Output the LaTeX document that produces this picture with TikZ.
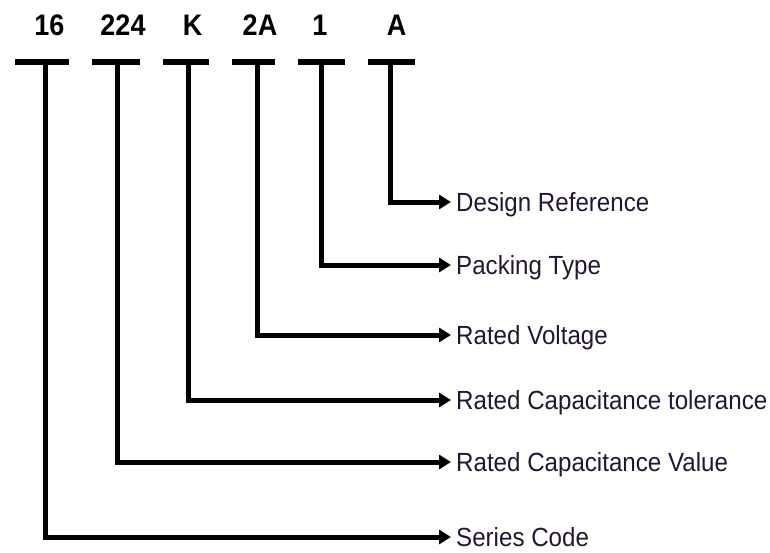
\documentclass[tikz,border=0pt]{standalone}
\usepackage{fontspec}
\setmainfont{Liberation Sans}
\usetikzlibrary{arrows.meta}
\definecolor{lblcol}{RGB}{34,22,52}
\begin{document}
\begin{tikzpicture}[x=1pt,y=-1pt,
  code/.style={anchor=base,inner sep=0pt,font=\fontsize{27}{30}\selectfont\bfseries},
  bar/.style={fill=black,inner sep=0pt,minimum height=6pt,draw=none},
  lbl/.style={anchor=west,inner sep=0pt,text height=19pt,text depth=0pt,text=lblcol,
     font=\fontsize{25}{28}\selectfont},
  conn/.style={line width=5pt,line join=miter,shorten >=5pt,
     -{Triangle[length=12pt,width=14pt]}}]
\useasboundingbox (0,0) rectangle (770,552);
% top codes
\node[code] (c16) at (49.5,35) {\scalebox{1}[1.1]{16}};
\node[code] (c224) at (123,35) {\scalebox{1}[1.1]{224}};
\node[code] (cK) at (192.5,35) {\scalebox{1}[1.1]{K}};
\node[code] (c2A) at (260,35) {\scalebox{1}[1.1]{2A}};
\node[code] (c1) at (320,35) {\scalebox{1}[1.1]{1}};
\node[code] (cA) at (396.5,35) {\scalebox{1}[1.1]{A}};
% stem tops
\coordinate (s16) at (45,62);
\coordinate (s224) at (117,62);
\coordinate (sK) at (188,62);
\coordinate (s2A) at (257,62);
\coordinate (s1) at (321,62);
\coordinate (sA) at (390,62);
% labels
\node[lbl] (lA) at (456,202) {\scalebox{0.965}[1.05]{Design Reference}};
\node[lbl] (l1) at (456,265) {\scalebox{0.965}[1.05]{Packing Type}};
\node[lbl] (l2A) at (456,335) {\scalebox{0.965}[1.05]{Rated Voltage}};
\node[lbl] (lK) at (456,400) {\scalebox{0.965}[1.05]{Rated Capacitance tolerance}};
\node[lbl] (l224) at (456,462) {\scalebox{0.965}[1.05]{Rated Capacitance Value}};
\node[lbl] (l16) at (456,537) {\scalebox{0.965}[1.05]{Series Code}};
% connectors
\draw[conn] (s16) |- (l16.west);
\draw[conn] (s224) |- (l224.west);
\draw[conn] (sK) |- (lK.west);
\draw[conn] (s2A) |- (l2A.west);
\draw[conn] (s1) |- (l1.west);
\draw[conn] (sA) |- (lA.west);
% bars
\node[bar,minimum width=54pt] (b16) at (42,62) {};
\node[bar,minimum width=48pt] (b224) at (116,62) {};
\node[bar,minimum width=46pt] (bK) at (186,62) {};
\node[bar,minimum width=43pt] (b2A) at (253.5,62) {};
\node[bar,minimum width=47pt] (b1) at (321.5,62) {};
\node[bar,minimum width=47pt] (bA) at (391.5,62) {};
\end{tikzpicture}
\end{document}
